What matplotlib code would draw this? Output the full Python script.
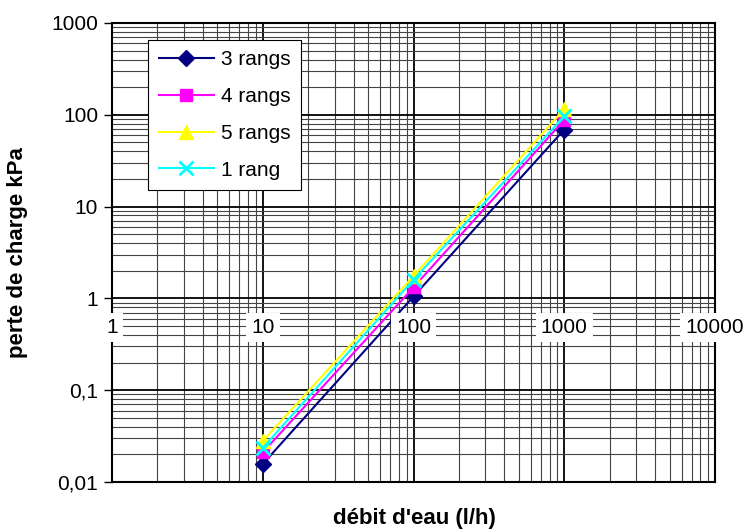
import matplotlib
matplotlib.use('Agg')
import matplotlib.pyplot as plt
from matplotlib.ticker import FuncFormatter, LogLocator, NullFormatter

plt.rcParams['font.family'] = ['Liberation Sans', 'DejaVu Sans']

# water flow (l/h) and pressure drop (kPa) per coil size
debit = [10, 100, 1000]
rangs_3 = [0.0157, 1.05, 69]
rangs_4 = [0.021, 1.32, 88]
rangs_5 = [0.028, 1.75, 115]
rang_1 = [0.0235, 1.6, 96]

series = [
    ('3 rangs', rangs_3, '#000080', 'D', 8.5),
    ('4 rangs', rangs_4, '#FF00FF', 's', 8),
    ('5 rangs', rangs_5, '#FFFF00', '^', 9.5),
    ('1 rang', rang_1, '#00FFFF', 'x', 10),
]

x_ticks = [1, 10, 100, 1000, 10000]
y_ticks = [0.01, 0.1, 1, 10, 100, 1000]

fig = plt.figure(figsize=(7.51, 5.32), dpi=100)
ax = fig.add_axes([112 / 751, 1 - 482 / 532, 603 / 751, 459 / 532])

for label, vals, color, marker, ms in series:
    ax.plot(debit, vals, color=color, marker=marker, markersize=ms, linewidth=1.5,
            markeredgewidth=2 if marker == 'x' else 1, label=label, zorder=3)

ax.set_xscale('log')
ax.set_yscale('log')
ax.set_xlim(1, 10000)
ax.set_ylim(0.01, 1000)

ax.grid(True, which='major', color='black', linewidth=1.3, zorder=1)
ax.grid(True, which='minor', color='#444444', linewidth=0.8, zorder=1)
ax.xaxis.set_minor_locator(LogLocator(base=10, subs=range(2, 10)))
ax.yaxis.set_minor_locator(LogLocator(base=10, subs=range(2, 10)))
ax.xaxis.set_minor_formatter(NullFormatter())
ax.yaxis.set_minor_formatter(NullFormatter())
ax.set_axisbelow(True)

ax.set_yticks(y_ticks)
ax.yaxis.set_major_formatter(FuncFormatter(lambda v, p: f'{v:g}'.replace('.', ',')))
ax.tick_params(axis='y', which='major', direction='out', length=6, width=1, labelsize=15, pad=4)
ax.tick_params(axis='y', which='minor', length=0)

# category axis crosses at 1: labels drawn under that line, on white boxes
ax.set_xticks(x_ticks)
ax.tick_params(axis='x', which='both', length=0, labelbottom=False)
for xt in x_ticks:
    ax.annotate(f'{xt:g}', xy=(xt, 1), xytext=(0, -21), textcoords='offset points',
                ha='center', va='center', fontsize=15, annotation_clip=False,
                bbox=dict(boxstyle='square,pad=0.25', fc='white', ec='none'), zorder=5)

for sp in ax.spines.values():
    sp.set_linewidth(1.5)
    sp.set_color('black')

ax.set_xlabel("débit d'eau (l/h)", fontsize=16, fontweight='bold')
ax.set_ylabel('perte de charge kPa', fontsize=16, fontweight='bold')
ax.xaxis.set_label_coords(0.502, -0.057)
ax.yaxis.set_label_coords(-0.139, 0.5)

leg = ax.legend(loc='upper left', bbox_to_anchor=(0.06, 0.963), fontsize=15,
                handlelength=2.65, handletextpad=0.35, labelspacing=0.85,
                borderpad=0.5, borderaxespad=0, fancybox=False, framealpha=1,
                edgecolor='black')
leg.get_frame().set_linewidth(0.8)
leg.set_zorder(6)

fig.savefig('out.png', dpi=100)
